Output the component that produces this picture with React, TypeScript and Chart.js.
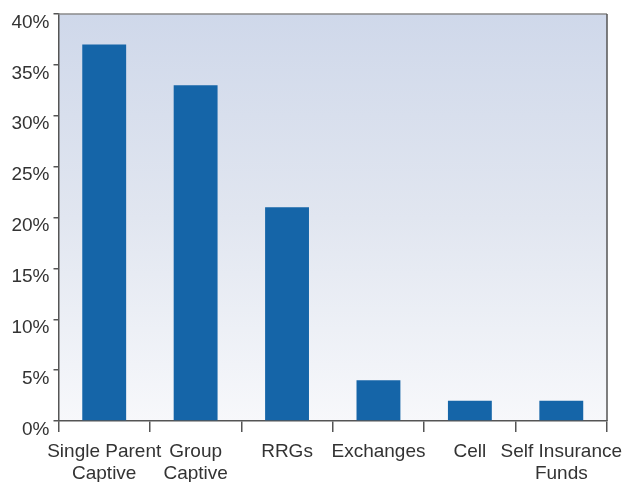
import React, { useEffect, useRef } from "react";
import { Chart, registerables } from "chart.js";

Chart.register(...registerables);

const categories: (string | string[])[] = [
  ["Single Parent", "Captive"],
  ["Group", "Captive"],
  "RRGs",
  "Exchanges",
  "Cell",
  ["Self Insurance", "Funds"],
];
const shares = [37, 33, 21, 4, 2, 2];
const yTicks = [0, 5, 10, 15, 20, 25, 30, 35, 40];

const bgPlugin = {
  id: "bgGradient",
  beforeDraw(chart: any) {
    const { ctx, chartArea } = chart;
    if (!chartArea) return;
    const g = ctx.createLinearGradient(0, chartArea.top, 0, chartArea.bottom);
    g.addColorStop(0, "#cfd8ea");
    g.addColorStop(0.5, "#e1e6f0");
    g.addColorStop(1, "#f7f8fb");
    ctx.save();
    ctx.fillStyle = g;
    ctx.fillRect(chartArea.left, chartArea.top, chartArea.right - chartArea.left, chartArea.bottom - chartArea.top);
    ctx.restore();
  },
  afterDraw(chart: any) {
    const { ctx, chartArea } = chart;
    ctx.save();
    ctx.lineWidth = 1.5;
    ctx.strokeStyle = "#8a8a8a";
    ctx.beginPath();
    ctx.moveTo(chartArea.left, chartArea.top);
    ctx.lineTo(chartArea.right, chartArea.top);
    ctx.stroke();
    ctx.strokeStyle = "#555";
    ctx.beginPath();
    ctx.moveTo(chartArea.right, chartArea.top);
    ctx.lineTo(chartArea.right, chartArea.bottom);
    ctx.stroke();
    ctx.restore();
  },
};

export default function App() {
  const ref = useRef<HTMLCanvasElement>(null);
  useEffect(() => {
    if (!ref.current) return;
    const chart = new Chart(ref.current, {
      type: "bar",
      data: {
        labels: categories as any,
        datasets: [
          {
            data: shares,
            backgroundColor: "#1565a8",
            borderWidth: 0,
            categoryPercentage: 0.96,
            barPercentage: 0.5,
          },
        ],
      },
      plugins: [bgPlugin],
      options: {
        responsive: false,
        animation: false,
        layout: { padding: { top: 14, right: 16, left: 0, bottom: 0 } },
        plugins: { legend: { display: false }, tooltip: { enabled: false } },
        scales: {
          x: {
            offset: true,
            grid: { offset: true, drawOnChartArea: false, tickLength: 11, color: "#555", lineWidth: 1.5 },
            border: { display: true, color: "#555", width: 1.5 },
            ticks: {
              color: "#333",
              font: { family: "'Liberation Sans', Arial, sans-serif", size: 19 },
              padding: 8,
              maxRotation: 0,
              autoSkip: false,
            },
            afterFit(scale: any) {
              scale.height = 61;
              scale.paddingLeft = 0;
              scale.paddingRight = 0;
            },
          },
          y: {
            min: 0,
            max: 40,
            afterBuildTicks(scale: any) {
              scale.ticks = yTicks.map((v) => ({ value: v }));
            },
            grid: { drawOnChartArea: false, tickLength: 5, color: "#555", lineWidth: 1.5 },
            border: { display: true, color: "#555", width: 1.5 },
            ticks: {
              color: "#333",
              font: { family: "'Liberation Sans', Arial, sans-serif", size: 19 },
              padding: 4,
              labelOffset: 8.5,
              callback: (v: any) => v + "%",
            },
            afterFit(scale: any) {
              scale.width = 58.5;
              scale.paddingTop = 0;
              scale.paddingBottom = 0;
            },
          },
        },
      },
    });
    return () => chart.destroy();
  }, []);
  return (
    <div style={{ position: "fixed", left: 0, top: 0, width: 623, height: 482, background: "#fff" }}>
      <canvas ref={ref} width={623} height={482} style={{ width: 623, height: 482, display: "block" }} />
    </div>
  );
}
